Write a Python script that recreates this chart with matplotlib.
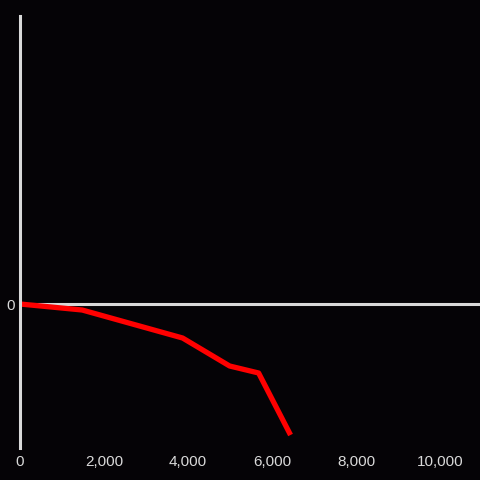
import matplotlib
matplotlib.use("Agg")
import matplotlib.pyplot as plt

x_vals = [0, 1480, 3870, 4990, 5680, 6440]
y_vals = [0, -6, -34, -62, -69, -131]
x_ticks = [0, 2000, 4000, 6000, 8000, 10000]
x_tick_labels = ["0", "2,000", "4,000", "6,000", "8,000", "10,000"]
y_ticks = [0]
y_tick_labels = ["0"]

bg = "#050306"
fg = "#d9d9d9"

plt.rcParams['font.family'] = ['Liberation Sans', 'DejaVu Sans']
fig = plt.figure(figsize=(4.8, 4.8), dpi=100, facecolor=bg)
ax = fig.add_axes([20/480, 32/480, 1 - 20/480, 432/480], facecolor=bg)

ax.axhline(0, color=fg, lw=2.2, zorder=1)
ax.plot(x_vals, y_vals, color="#ff0000", lw=3.8, zorder=2, solid_capstyle='butt')

ax.set_xlim(0, 10950)
ax.set_ylim(-144, 288)
ax.set_xticks(x_ticks)
ax.set_xticklabels(x_tick_labels)
ax.set_yticks(y_ticks)
ax.set_yticklabels(y_tick_labels)
ax.tick_params(axis='both', length=0, colors=fg, labelsize=11)
ax.tick_params(axis='x', pad=5)
ax.tick_params(axis='y', pad=4)
for s in ['top', 'right', 'bottom']:
    ax.spines[s].set_visible(False)
ax.spines['left'].set_color(fg)
ax.spines['left'].set_linewidth(2.2)

fig.savefig("out.png", dpi=100, facecolor=bg)
